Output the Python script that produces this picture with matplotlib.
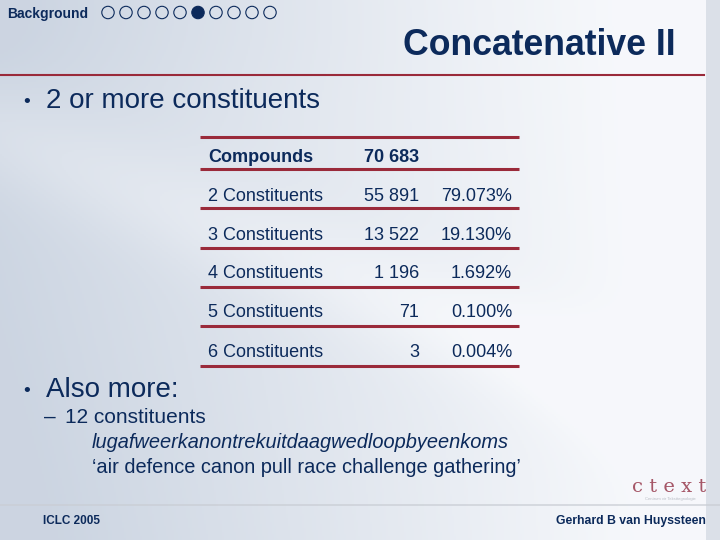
import numpy as np
import matplotlib
matplotlib.use("Agg")
import matplotlib.pyplot as plt
from matplotlib.patches import Circle

# ---- data ----
title = "Concatenative II"
section = "Background"
n_steps = 10
current_step = 6
row_labels = ["Compounds", "2 Constituents", "3 Constituents", "4 Constituents",
              "5 Constituents", "6 Constituents"]
row_counts = [70683, 55891, 13522, 1196, 71, 3]
row_pcts = [None, 79.073, 19.130, 1.692, 0.100, 0.004]
bullet1 = "2 or more constituents"
bullet2 = "Also more:"
sub_bullet = "12 constituents"
example_word = "lugafweerkanontrekuitdaagwedloopbyeenkoms"
example_gloss = "\u2018air defence canon pull race challenge gathering\u2019"
footer_left = "ICLC 2005"
footer_right = "Gerhard B van Huyssteen"

NAVY = "#0c2a5b"
RED = "#9a2a3a"

fig = plt.figure(figsize=(7.2, 5.4), dpi=100)
ax = fig.add_axes([0, 0, 1, 1])
ax.set_xlim(0, 720)
ax.set_ylim(540, 0)
ax.axis("off")

# background gradient
H, W = 270, 360
yy, xx = np.mgrid[0:H, 0:W]
xn = xx / W
yn = yy / H
t = np.clip(0.85 - 1.0 * xn + 0.25 * yn * (1 - xn), 0, 1)
streak = np.exp(-((yn - 0.55 * xn - 0.25) ** 2) / 0.01) * 0.25
t = np.clip(t - streak, 0, 1)
top = np.exp(-(yn / 0.18) ** 2) * np.clip(1 - xn * 1.5, 0, 1) * 0.2
t = np.clip(t + top, 0, 1)
c0 = np.array([0.965, 0.972, 0.985])
c1 = np.array([0.80, 0.835, 0.885])
img = c0[None, None, :] * (1 - t[..., None]) + c1[None, None, :] * t[..., None]
img[:, int(W * 0.982):, :] = np.array([0.86, 0.88, 0.91])
ax.imshow(img, extent=[0, 720, 540, 0], aspect="auto", zorder=0)

# header
ax.text(7, 18, section, fontsize=10, fontweight="bold", color=NAVY,
        family="Liberation Sans", ha="left", va="baseline", zorder=3)
for i in range(n_steps):
    filled = (i + 1) == current_step
    ax.add_patch(Circle((108 + 18 * i, 12.5), 6.2,
                        facecolor=NAVY if filled else "none",
                        edgecolor=NAVY, lw=0.8, zorder=3))

# title
ax.text(676, 55, title, fontsize=25.7, fontweight="bold", color=NAVY,
        family="Liberation Sans", ha="right", va="baseline", zorder=3)
ax.plot([0, 704], [75, 75], color=RED, lw=1.5, zorder=3)

# bullets
ax.text(23, 107, "\u2022", fontsize=14, color=NAVY, family="Liberation Sans",
        ha="left", va="baseline", zorder=3)
ax.text(46, 108, bullet1, fontsize=20, color=NAVY, family="Liberation Sans",
        ha="left", va="baseline", zorder=3)

# table
line_ys = [137, 169, 208, 248, 287, 326, 366]
base_ys = [162, 201, 240, 278, 317, 357]
for ly in line_ys:
    ax.plot([200, 519], [ly, ly], color=RED, lw=2.2, solid_capstyle="butt", zorder=3)
for i, (lab, cnt, pct) in enumerate(zip(row_labels, row_counts, row_pcts)):
    bold = "bold" if i == 0 else "normal"
    by = base_ys[i]
    ax.text(208, by, lab, fontsize=13, fontweight=bold, color=NAVY,
            family="Liberation Sans", ha="left", va="baseline", zorder=3)
    ax.text(419, by, f"{cnt:,}".replace(",", " "), fontsize=13, fontweight=bold,
            color=NAVY, family="Liberation Sans", ha="right", va="baseline", zorder=3)
    if pct is not None:
        ax.text(512, by, f"{pct:.3f}%", fontsize=13, color=NAVY,
                family="Liberation Sans", ha="right", va="baseline", zorder=3)

# second bullet
ax.text(23, 396, "\u2022", fontsize=14, color=NAVY, family="Liberation Sans",
        ha="left", va="baseline", zorder=3)
ax.text(46, 397, bullet2, fontsize=20, color=NAVY, family="Liberation Sans",
        ha="left", va="baseline", zorder=3)
ax.text(44, 423, "\u2013", fontsize=15, color=NAVY, family="Liberation Sans",
        ha="left", va="baseline", zorder=3)
ax.text(65, 423, sub_bullet, fontsize=15, color=NAVY, family="Liberation Sans",
        ha="left", va="baseline", zorder=3)
ax.text(92, 448, example_word, fontsize=14.4, style="italic", color=NAVY,
        family="Liberation Sans", ha="left", va="baseline", zorder=3)
ax.text(92, 473, example_gloss, fontsize=14.4, color=NAVY,
        family="Liberation Sans", ha="left", va="baseline", zorder=3)

# logo
ax.text(669, 492, "c t e x t", fontsize=14, color="#8a2035", family="DejaVu Serif",
        ha="center", va="baseline", zorder=3, alpha=0.75)
ax.text(670, 500, "Centrum vir Teksttegnologie", fontsize=3, color="#b8bcc4",
        family="Liberation Sans", ha="center", va="baseline", zorder=3)

# footer
ax.plot([0, 720], [505, 505], color="#c9cdd4", lw=1.2, alpha=0.8, zorder=2)
ax.text(43, 524, footer_left, fontsize=8.5, fontweight="bold", color=NAVY,
        family="Liberation Sans", ha="left", va="baseline", zorder=3)
ax.text(706, 524, footer_right, fontsize=8.8, fontweight="bold", color=NAVY,
        family="Liberation Sans", ha="right", va="baseline", zorder=3)

fig.savefig("out.png", dpi=100)
